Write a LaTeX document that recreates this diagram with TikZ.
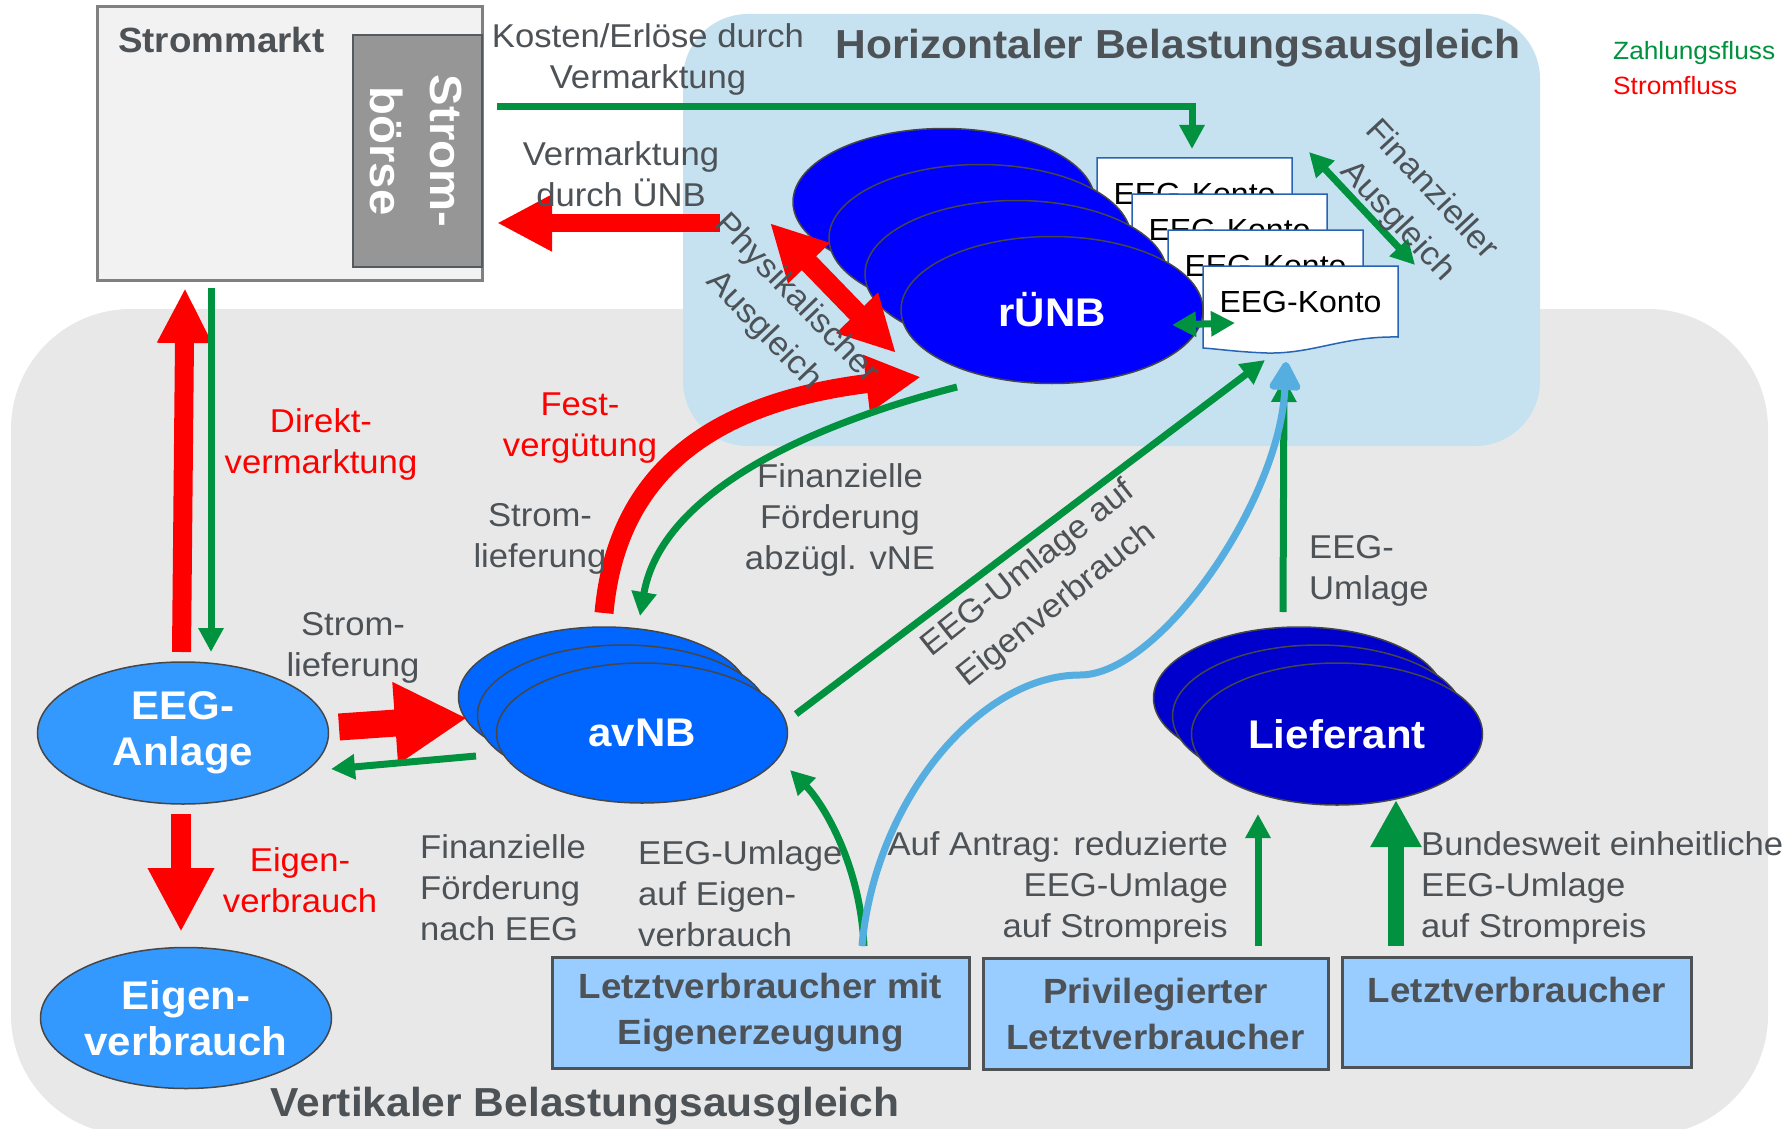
\documentclass[tikz,border=0pt]{standalone}
\usepackage{fontspec}
\setmainfont{Liberation Sans}[FakeStretch=1.05]
\usetikzlibrary{arrows.meta,shapes.geometric}
\definecolor{bggray}{RGB}{232,232,232}
\definecolor{bgblue}{RGB}{198,226,240}
\definecolor{txtgray}{RGB}{77,82,87}
\definecolor{pgreen}{RGB}{0,146,63}
\definecolor{pred}{RGB}{255,0,0}
\definecolor{lblue}{RGB}{86,174,224}
\definecolor{cAnl}{RGB}{51,153,255}
\definecolor{cav}{RGB}{0,102,255}
\definecolor{crue}{RGB}{0,0,255}
\definecolor{clief}{RGB}{0,0,204}
\definecolor{cbox}{RGB}{153,204,255}
\definecolor{cdoc}{RGB}{40,100,180}
\definecolor{mfill}{RGB}{242,242,242}
\definecolor{mborder}{RGB}{128,128,128}
\definecolor{bfill}{RGB}{150,150,150}
\definecolor{bborder}{RGB}{85,90,95}
\definecolor{eborder}{RGB}{70,70,70}
\tikzset{
  body/.style={text=txtgray, font=\fontsize{33}{41}\selectfont, align=center, inner sep=0pt},
  rotbody/.style={text=txtgray, font=\fontsize{33}{46}\selectfont, align=center, inner sep=0pt},
  redtxt/.style={body, text=pred},
  titletxt/.style={text=txtgray, font=\bfseries\fontsize{40.5}{48}\selectfont, inner sep=0pt},
  blob/.style={ellipse, draw=eborder, line width=1.5pt, inner sep=0pt, text=white, font=\bfseries\fontsize{40}{46}\selectfont, align=center},
  lvbox/.style={draw=txtgray, line width=3pt, fill=cbox, inner sep=0pt, text=txtgray, font=\bfseries\fontsize{35}{46}\selectfont, align=center},
  lvtext/.style={text=txtgray, font=\bfseries\fontsize{35}{46}\selectfont, align=center, inner sep=0pt},
  docshape/.style={fill=white, draw=cdoc, line width=1.5pt},
  doctext/.style={font=\fontsize{30.5}{36}\selectfont, inner sep=0pt},
  gline/.style={draw=pgreen, line width=7pt},
  gar/.style={gline, -{Triangle[length=24pt,width=24pt]}},
  gdbl/.style={gline, {Triangle[length=24pt,width=24pt]}-{Triangle[length=24pt,width=24pt]}},
  rarrow/.style={draw=pred},
  legendtxt/.style={font=\fontsize{25}{30}\selectfont, inner sep=0pt, anchor=west},
}
\begin{document}
\begin{tikzpicture}[x=1pt,y=-1pt]
\useasboundingbox (0,0) rectangle (1791,1129);
\fill[white] (0,0) rectangle (1791,1129);
% background areas
\fill[bggray, rounded corners=120pt] (11,309) rectangle (1768,1135);
\fill[bgblue, rounded corners=65pt] (683,14) rectangle (1540,446);

% Strommarkt
\node[draw=mborder, line width=3pt, fill=mfill, minimum width=385pt, minimum height=274pt, inner sep=0pt] (markt) at (289.5,143.5) {};
\node[draw=bborder, line width=2.5pt, fill=bfill, minimum width=129pt, minimum height=232pt, inner sep=0pt] (boerse) at (417.5,151) {};
\node[titletxt, anchor=west, font=\bfseries\fontsize{35}{42}\selectfont] (marktlbl) at (118,40) {Strommarkt};
\node[rotate=-90, text=white, font=\bfseries\fontsize{45}{60}\selectfont, align=center, inner sep=0pt] (boerselbl) at (416,151) {Strom-\\börse};

% titles and legend
\node[titletxt] (htitle) at (1178,48) {Horizontaler Belastungsausgleich};
\node[titletxt] (vtitle) at (585,1106) {Vertikaler Belastungsausgleich};
\node[legendtxt, text=pgreen] (leg1) at (1613,53) {Zahlungsfluss};
\node[legendtxt, text=pred] (leg2) at (1613,86) {Stromfluss};

% EEG-Konto documents
\foreach \dx/\dy/\nm in {1097/158/docA,1132/194/docB,1168/230/docC,1203/266/docD}{
  \begin{scope}[shift={(\dx,\dy)}]
    \filldraw[docshape] (0,0) -- (195,0) -- (195,71) .. controls (140,70) and (110,88) .. (64,87) .. controls (35,86) and (15,83) .. (0,82) -- cycle;
    \node[doctext] (\nm) at (97.5,36) {EEG-Konto};
  \end{scope}
}

% rUeNB ellipses
\node[blob, fill=crue, minimum width=302pt, minimum height=147pt] (rue1) at (944,202) {};
\node[blob, fill=crue, minimum width=302pt, minimum height=147pt] (rue2) at (980,238) {};
\node[blob, fill=crue, minimum width=302pt, minimum height=147pt] (rue3) at (1016,274) {};
\node[blob, fill=crue, minimum width=302pt, minimum height=147pt] (rue4) at (1052,310) {rÜNB};

% avNB ellipses
\node[blob, fill=cav, minimum width=291pt, minimum height=140pt] (av1) at (604,697) {};
\node[blob, fill=cav, minimum width=291pt, minimum height=140pt] (av2) at (623,715) {};
\node[blob, fill=cav, minimum width=291pt, minimum height=140pt] (av3) at (642,733) {avNB};

% Lieferant ellipses
\node[blob, fill=clief, minimum width=291pt, minimum height=142pt] (lf1) at (1299,698) {};
\node[blob, fill=clief, minimum width=291pt, minimum height=142pt] (lf2) at (1318,716) {};
\node[blob, fill=clief, minimum width=291pt, minimum height=142pt] (lf3) at (1337,734) {Lieferant};

% EEG-Anlage, Eigenverbrauch
\node[blob, fill=cAnl, minimum width=291pt, minimum height=142pt] (anl) at (183,733) {EEG-\\Anlage};
\node[blob, fill=cAnl, minimum width=291pt, minimum height=141pt] (eigen) at (186,1018) {Eigen-\\verbrauch};

% bottom boxes
\node[lvbox, minimum width=417pt, minimum height=111pt] (lv1) at (760.5,1012.5) {Letztverbraucher mit\\Eigenerzeugung};
\node[lvbox, minimum width=345pt, minimum height=111pt] (lv2) at (1155.5,1013.5) {Privilegierter\\Letztverbraucher};
\node[lvbox, minimum width=349pt, minimum height=110pt] (lv3) at (1516.5,1012) {};
\node[lvtext] (lv3t) at (1517,990) {Letztverbraucher};

% connector end points
\coordinate (kA) at (497,107); \coordinate (kB) at (1192,107); \coordinate (kC) at (1192,149);
\coordinate (vA) at (720,223); \coordinate (vB) at (497,223);
\coordinate (dA) at (181.5,652); \coordinate (dB) at (185,288);
\coordinate (gA) at (211,288); \coordinate (gB) at (211,652);
\coordinate (eA) at (181,814); \coordinate (eB) at (181,932);
\coordinate (sA) at (339,727); \coordinate (sB) at (467,718);
\coordinate (fA) at (476,756); \coordinate (fB) at (331,769);
\coordinate (pA) at (770,223); \coordinate (pB) at (896,353);
\coordinate (festA) at (604,613); \coordinate (festB) at (921,377);
\coordinate (finA) at (957,387); \coordinate (finB) at (640,616);
\coordinate (ueA) at (796,714); \coordinate (ueB) at (1265,360);
\coordinate (blA) at (862,946); \coordinate (blM) at (1080,675); \coordinate (blB) at (1286,362);
\coordinate (lgA) at (864,946); \coordinate (lgB) at (790,770);
\coordinate (liA) at (1283,612); \coordinate (liB) at (1284,378);
\coordinate (t1A) at (1258,946); \coordinate (t1B) at (1258,814);
\coordinate (t2A) at (1396,946); \coordinate (t2B) at (1396,800);
\coordinate (kdA) at (1172,325); \coordinate (kdB) at (1235,323);
\coordinate (faA) at (1309,152); \coordinate (faB) at (1415,265);

% red arrows (Stromfluss)
\draw[rarrow, line width=18pt, -{Triangle[length=55pt,width=53pt]}] (vA) -- (vB);
\draw[rarrow, line width=19pt, -{Triangle[length=55pt,width=51pt]}] (dA) -- (dB);
\draw[rarrow, line width=20pt, -{Triangle[length=64pt,width=62pt]}] (eA) -- (eB);
\draw[rarrow, line width=27pt, -{Triangle[length=72pt,width=77pt]}] (sA) -- (sB);
\draw[rarrow, line width=20pt, {Triangle[length=56pt,width=54pt]}-{Triangle[length=56pt,width=54pt]}] (pA) -- (pB);
\draw[rarrow, line width=19pt, -{Triangle[length=55pt,width=54pt]}] (festA) .. controls (615,490) and (690,405) .. (festB);

% green arrows (Zahlungsfluss)
\draw[gar] (kA) -- (kB) -- (kC);
\draw[gar] (gA) -- (gB);
\draw[gar] (fA) -- (fB);
\draw[gar] (finA) .. controls (790,430) and (660,500) .. (finB);
\draw[gar] (ueA) -- (ueB);
\draw[gar] (lgA) .. controls (860,860) and (820,800) .. (lgB);
\draw[gar] (liA) -- (liB);
\draw[gar] (t1A) -- (t1B);
\draw[draw=pgreen, line width=16pt, -{Triangle[length=47pt,width=48pt]}] (t2A) -- (t2B);
\draw[gdbl] (kdA) -- (kdB);
\draw[gdbl] (faA) -- (faB);

% blue curve
\draw[draw=lblue, line width=7pt, -{Triangle[length=32pt,width=34pt,round]}] (blA) .. controls (875,800) and (980,675) .. (blM) .. controls (1160,675) and (1280,500) .. (blB);

% labels
\node[body] (kosten) at (648,59) {Kosten/Erlöse durch\\Vermarktung};
\node[body] (vermuenb) at (621,174) {Vermarktung\\durch ÜNB};
\node[redtxt] (direkt) at (321,444) {Direkt-\\vermarktung};
\node[redtxt] (fest) at (580,428) {Fest-\\vergütung};
\node[body] (slief1) at (540,539) {Strom-\\lieferung};
\node[body] (slief2) at (353,648) {Strom-\\lieferung};
\node[body] (finfoe) at (840,520) {Finanzielle\\Förderung\\abzügl. vNE};
\node[redtxt] (eigenlbl) at (300,880) {Eigen-\\verbrauch};
\node[body, align=left, anchor=west] (foenach) at (420,888) {Finanzielle\\Förderung\\nach EEG};
\node[body, align=left, anchor=west] (umlEigen) at (638,894) {EEG-Umlage\\auf Eigen-\\verbrauch};
\node[body, align=right, anchor=east] (antrag) at (1228,888) {Auf Antrag: reduzierte\\EEG-Umlage\\auf Strompreis};
\node[body, align=left, anchor=west] (bundes) at (1421,888) {Bundesweit einheitliche\\EEG-Umlage\\auf Strompreis};
\node[body, align=left, anchor=west] (umlage) at (1309,571) {EEG-\\Umlage};
\node[rotbody, rotate=-46] (physlbl) at (780,315) {Physikalischer\\Ausgleich};
\node[rotbody, rotate=-47] (finauslbl) at (1414,206) {Finanzieller\\Ausgleich};
\node[rotbody, rotate=38.5] (umlEVlbl) at (1043,587) {EEG-Umlage auf\\Eigenverbrauch};
\end{tikzpicture}
\end{document}
